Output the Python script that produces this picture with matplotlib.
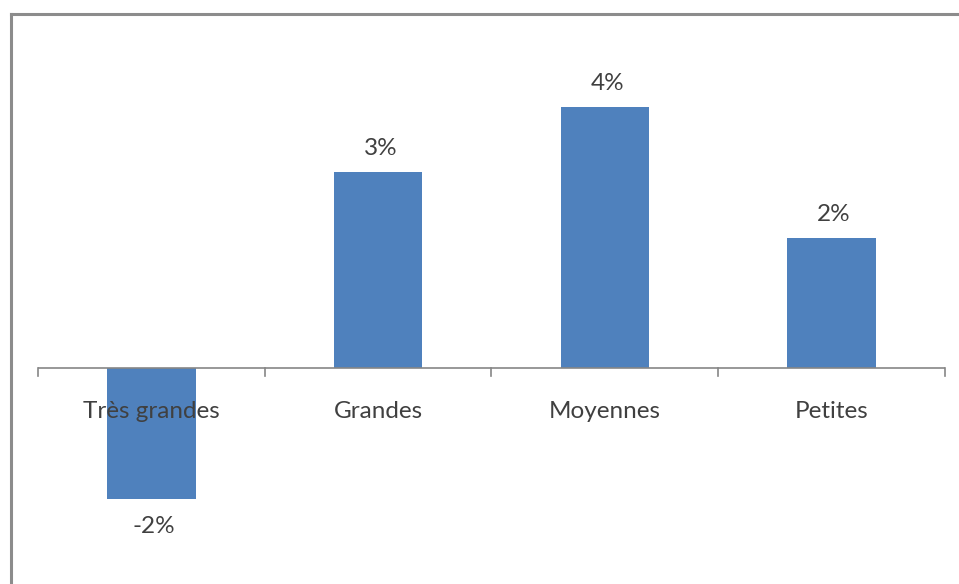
import matplotlib.pyplot as plt
from matplotlib.lines import Line2D

categories = ["Très grandes", "Grandes", "Moyennes", "Petites"]
values = [-2, 3, 4, 2]
value_labels = ["-2%", "3%", "4%", "2%"]

plt.rcParams['font.family'] = ['Lato', 'DejaVu Sans']

W, H = 959, 584
fig = plt.figure(figsize=(W / 100, H / 100), dpi=100)

# chart frame (only left and top edges show in the crop)
fig.add_artist(Line2D([11 / W, 11 / W], [0, 1 - 14 / H], color='#8c8c8c', lw=2.2))
fig.add_artist(Line2D([11 / W, 1], [1 - 14 / H, 1 - 14 / H], color='#8c8c8c', lw=2.2))

ymin, ymax = -3, 5
px_per_unit = 65.25
zero_y = 368
top_px = zero_y - ymax * px_per_unit
bot_px = zero_y - ymin * px_per_unit
ax = fig.add_axes([38 / W, 1 - bot_px / H, 907 / W, (bot_px - top_px) / H])

x = range(len(categories))
ax.bar(x, values, width=0.39, color='#4f81bd', zorder=2)
ax.set_xlim(-0.5, len(categories) - 0.5)
ax.set_ylim(ymin, ymax)

fs = 17.5
for xi, v, lab in zip(x, values, value_labels):
    off = 0.36 if v >= 0 else -0.43
    ax.text(xi + 0.01, v + off, lab, ha='center', va='center', fontsize=fs, color='#404040')

ax.axhline(0, color='#868686', lw=1.2, zorder=3)
for b in [i - 0.5 for i in range(len(categories) + 1)]:
    ax.plot([b, b], [0, -8 / px_per_unit], color='#868686', lw=1.2, zorder=3, clip_on=False)

for xi, c in zip(x, categories):
    ax.text(xi, -44 / px_per_unit, c, ha='center', va='center', fontsize=fs, color='#404040', zorder=4)

for s in ax.spines.values():
    s.set_visible(False)
ax.set_xticks([])
ax.set_yticks([])
ax.patch.set_alpha(0)

fig.savefig('out.png', dpi=100)
